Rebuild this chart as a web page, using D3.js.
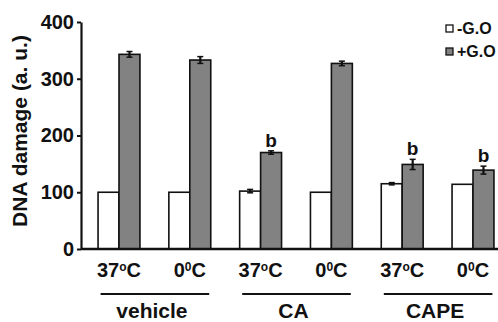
<!DOCTYPE html>
<html>
<head>
<meta charset="utf-8">
<script src="https://cdn.jsdelivr.net/npm/d3@7"></script>
<style>
  body { margin: 0; background: #fff; }
  svg { display: block; font-family: "Liberation Sans", Arial, sans-serif; font-weight: bold; }
</style>
</head>
<body>
<div id="chart"></div>
<script>
// data
var categories = ["37C", "0C", "37C", "0C", "37C", "0C"];
var groups = ["vehicle", "CA", "CAPE"];
var series = ["-G.O", "+G.O"];
var minusGO = [100, 100, 102, 100, 115, 114];
var plusGO = [343, 333, 170, 327, 149, 139];
var minusErr = [0, 0, 3, 0, 2, 0];
var plusErr = [5, 6, 3, 4, 9, 7];
var significant = ["", "", "b", "", "b", "b"];
var yTicks = [0, 100, 200, 300, 400];

var width = 498, height = 322;
var margin = {top: 22, right: -10, bottom: 73, left: 81};

var svg = d3.select("#chart").append("svg")
    .attr("width", width)
    .attr("height", height);

var y = d3.scaleLinear()
    .domain([0, 400])
    .range([height - margin.bottom, margin.top]);

var x = d3.scaleBand()
    .domain(d3.range(categories.length))
    .range([83.6, 508.4])
    .paddingInner(0)
    .paddingOuter(0);

// two bars per category, about 21px each
var xs = d3.scaleBand()
    .domain([0, 1])
    .range([0, x.bandwidth()])
    .paddingInner(0)
    .paddingOuter(0.69);

var colors = ["#ffffff", "#828282"];

var rows = categories.map(function (c, i) {
    return {i: i, vals: [minusGO[i], plusGO[i]], errs: [minusErr[i], plusErr[i]]};
});

// bars
var cat = svg.selectAll(".cat")
    .data(rows)
  .enter().append("g")
    .attr("transform", d => "translate(" + x(d.i) + ",0)");

cat.selectAll("rect")
    .data(d => d.vals.map((v, k) => ({k: k, v: v, e: d.errs[k]})))
  .enter().append("rect")
    .attr("x", d => xs(d.k))
    .attr("y", d => y(d.v))
    .attr("width", xs.bandwidth())
    .attr("height", d => y(0) - y(d.v))
    .attr("fill", d => colors[d.k])
    .attr("stroke", "#111")
    .attr("stroke-width", 1.6);

// error bars
var err = cat.selectAll(".err")
    .data(d => d.vals.map((v, k) => ({k: k, v: v, e: d.errs[k]})).filter(d => d.e > 0))
  .enter().append("g");

err.append("line")
    .attr("x1", d => xs(d.k) + xs.bandwidth() / 2)
    .attr("x2", d => xs(d.k) + xs.bandwidth() / 2)
    .attr("y1", d => y(d.v - d.e))
    .attr("y2", d => y(d.v + d.e))
    .attr("stroke", "#111")
    .attr("stroke-width", 2.2);

err.selectAll(".cap")
    .data(d => [d.v - d.e, d.v + d.e].map(t => ({k: d.k, t: t})))
  .enter().append("line")
    .attr("x1", d => xs(d.k) + xs.bandwidth() / 2 - 3)
    .attr("x2", d => xs(d.k) + xs.bandwidth() / 2 + 3)
    .attr("y1", d => y(d.t))
    .attr("y2", d => y(d.t))
    .attr("stroke", "#111")
    .attr("stroke-width", 1.5);

// significance letters
cat.filter(d => significant[d.i] !== "")
  .append("text")
    .attr("x", xs(1) + xs.bandwidth() / 2)
    .attr("y", d => y(d.vals[1] + d.errs[1]) - 4)
    .attr("text-anchor", "middle")
    .attr("font-size", 19)
    .attr("fill", "#111")
    .text(d => significant[d.i]);

// y axis
var yAxis = svg.append("g")
    .attr("transform", "translate(" + margin.left + ",0)")
    .call(d3.axisLeft(y).tickValues(yTicks).tickSize(4).tickSizeOuter(0));
yAxis.select(".domain").attr("stroke", "#111").attr("stroke-width", 2.2);
yAxis.selectAll(".tick line").attr("stroke", "#111").attr("stroke-width", 2);
yAxis.selectAll(".tick text")
    .attr("font-size", 20)
    .attr("font-family", "'Liberation Sans', Arial, sans-serif")
    .attr("font-weight", "bold")
    .attr("fill", "#111")
    .attr("x", -7);

// x axis baseline
svg.append("line")
    .attr("x1", margin.left)
    .attr("x2", width)
    .attr("y1", y(0))
    .attr("y2", y(0))
    .attr("stroke", "#111")
    .attr("stroke-width", 2.6);

// category labels with superscripts
var lab = svg.selectAll(".catlabel")
    .data(categories)
  .enter().append("text")
    .attr("x", (d, i) => x(i) + x.bandwidth() / 2)
    .attr("y", 277)
    .attr("text-anchor", "middle")
    .attr("font-size", 20)
    .attr("fill", "#111");
lab.each(function (d) {
    var t = d3.select(this);
    var num = d.replace("C", "");
    t.append("tspan").text(num);
    t.append("tspan").attr("font-size", 12).attr("dy", -6).text(num === "37" ? "o" : "0");
    t.append("tspan").attr("dy", 6).text("C");
});

// group lines and labels
groups.forEach(function (g, gi) {
    var x0 = x(gi * 2) + 17;
    var x1 = x(gi * 2 + 1) + x.bandwidth() - 16;
    svg.append("line")
        .attr("x1", x0).attr("x2", x1)
        .attr("y1", 294).attr("y2", 294)
        .attr("stroke", "#111")
        .attr("stroke-width", 2.2);
    svg.append("text")
        .attr("x", (x0 + x1) / 2 - 3)
        .attr("y", 318)
        .attr("text-anchor", "middle")
        .attr("font-size", 21)
        .attr("fill", "#111")
        .text(g);
});

// y axis title
svg.append("text")
    .attr("transform", "translate(27,131) rotate(-90)")
    .attr("text-anchor", "middle")
    .attr("font-size", 21)
    .attr("fill", "#111")
    .text("DNA damage (a. u.)");

// legend
var legend = svg.selectAll(".legend")
    .data(series)
  .enter().append("g")
    .attr("transform", (d, i) => "translate(446," + (25 + i * 23) + ")");
legend.append("rect")
    .attr("width", 7)
    .attr("height", 7)
    .attr("fill", (d, i) => colors[i])
    .attr("stroke", "#111")
    .attr("stroke-width", 1.3);
legend.append("text")
    .attr("x", 11)
    .attr("y", 9)
    .attr("font-size", 16)
    .attr("fill", "#111")
    .text(d => d);
</script>
</body>
</html>
